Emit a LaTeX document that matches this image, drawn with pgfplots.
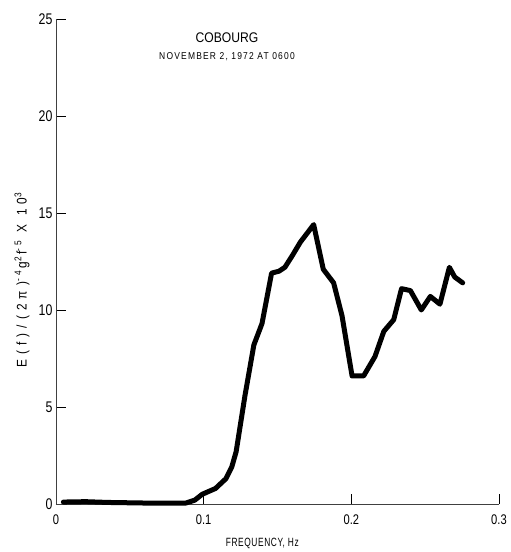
\documentclass[border=0pt]{standalone}
\usepackage{fontspec}
\setmainfont{Liberation Sans}
\newfontfamily\tickf{Liberation Sans}[FakeStretch=0.8]
\newfontfamily\titlef{Liberation Sans}[FakeStretch=0.87]
\newfontfamily\subf{Liberation Sans}[FakeStretch=0.85, LetterSpace=12]
\newfontfamily\xlabf{Liberation Sans}[FakeStretch=0.7, LetterSpace=5]
\newfontfamily\ylabf{Liberation Sans}[FakeStretch=0.85, LetterSpace=36]
\usepackage{pgfplots}
\pgfplotsset{compat=1.18}

\begin{document}
\begin{tikzpicture}
  \begin{axis}[
      at={(0,0)}, anchor=south west,
      width=443bp, height=485bp, scale only axis,
      xmin=0, xmax=0.3, ymin=0, ymax=25,
      axis x line*=bottom, axis y line*=left,
      xtick={0,0.1,0.2,0.3}, xticklabels={0,0.1,0.2,0.3},
      ytick={0,5,10,15,20,25},
      tick align=inside, major tick length=10bp,
      tick style={black, line width=0.6bp},
      axis line style={black!75, line width=0.8bp},
      /pgf/number format/assume math mode=true,
      yticklabel style={font=\tickf\fontsize{15.5}{15.5}\selectfont},
      xticklabel style={font=\tickf\fontsize{14}{14}\selectfont, yshift=-7bp},
      clip=false,
    ]

    \addplot[black, line width=5bp, line join=round, line cap=round] coordinates {
      (0.005,0.10) (0.02,0.12) (0.035,0.08) (0.06,0.05) (0.088,0.05)
      (0.094,0.20) (0.099,0.50) (0.108,0.80) (0.115,1.30) (0.119,1.90)
      (0.122,2.70) (0.128,5.60) (0.134,8.20) (0.1395,9.30) (0.146,11.90)
      (0.151,12.00) (0.155,12.20) (0.160,12.80) (0.1655,13.50) (0.1745,14.40)
      (0.181,12.10) (0.188,11.40) (0.1937,9.70) (0.2005,6.60) (0.2083,6.60)
      (0.216,7.60) (0.222,8.90) (0.2287,9.50) (0.234,11.10) (0.240,11.00)
      (0.2474,10.00) (0.2535,10.70) (0.260,10.30) (0.2664,12.20) (0.270,11.70)
      (0.2754,11.40)
    };

    \node[font=\titlef\fontsize{14}{14}\selectfont] at (axis cs:0.1158,24.02) {COBOURG};
    \node[font=\subf\fontsize{10}{10}\selectfont] at (axis cs:0.1158,23.04) {NOVEMBER 2, 1972 AT 0600};
    \node[font=\xlabf\fontsize{12}{12}\selectfont] at (axis cs:0.1397,0) [yshift=-39bp] {FREQUENCY, Hz};
    \node[font=\ylabf\fontsize{14}{14}\selectfont, xshift=-34bp, rotate=90] at (axis cs:0,11.55)
      {E(f)/(2π)\textsuperscript{-4}\hspace{2bp}g\textsuperscript{2}\hspace{2bp}f\textsuperscript{-5}\hspace{8bp}X 10\textsuperscript{3}};
  \end{axis}
  \pgfresetboundingbox
  \path (-56bp,-48bp) rectangle (455bp,504bp);
\end{tikzpicture}
\end{document}
